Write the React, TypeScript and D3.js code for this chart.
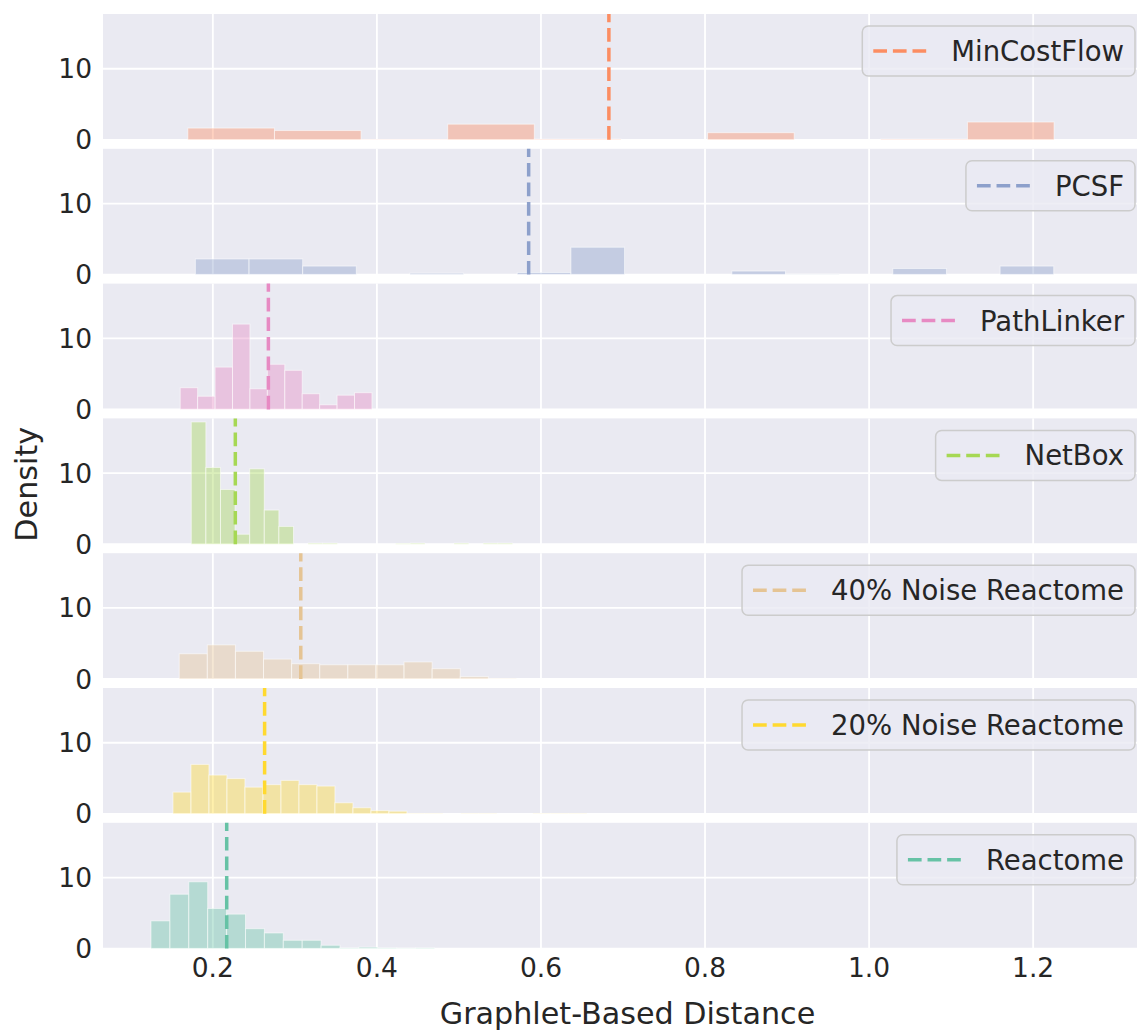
import React from "react";
import * as d3 from "d3";

// ---- data ----
const seriesNames = [
  "MinCostFlow",
  "PCSF",
  "PathLinker",
  "NetBox",
  "40% Noise Reactome",
  "20% Noise Reactome",
  "Reactome",
];
const seriesColors = ["#fc8d62", "#8da0cb", "#e78ac3", "#a6d854", "#e5c494", "#ffd92f", "#66c2a5"];
const binStarts = [0.1695, 0.1787, 0.1602, 0.1737, 0.159, 0.1514, 0.1246];
const binWidths = [0.1056, 0.0654, 0.02125, 0.0178, 0.03426, 0.02194, 0.02304];
const minCostFlowDensity = [1.65, 1.3, 0.05, 2.2, 0.1, 0, 1.0, 0, 0.1, 2.5];
const pcsfDensity = [2.2, 2.2, 1.2, 0, 0.2, 0, 0.3, 3.85, 0, 0, 0.5, 0.05, 0, 0.85, 0, 1.2];
const pathLinkerDensity = [3.05, 1.85, 5.95, 12.0, 2.9, 6.35, 5.5, 2.2, 0.65, 2.0, 2.35];
const netBoxDensity = [17.2, 10.8, 7.7, 1.4, 10.6, 4.8, 2.5, 0, 0.15, 0.15, 0, 0, 0, 0, 0.1, 0.15, 0, 0, 0.15, 0, 0.15, 0.15];
const noise40Density = [3.55, 4.8, 3.9, 2.8, 2.15, 2.0, 2.0, 2.0, 2.4, 1.45, 0.33, 0.06];
const noise20Density = [3.05, 6.95, 5.45, 4.95, 3.75, 4.1, 4.7, 4.1, 3.9, 1.55, 0.85, 0.45, 0.37, 0.05, 0.05, 0, 0.05, 0.05, 0, 0, 0.05, 0.05, 0.05];
const reactomeDensity = [3.9, 7.65, 9.4, 5.65, 4.85, 2.8, 2.2, 1.17, 1.17, 0.47, 0.1, 0.2, 0.1, 0.05, 0.1];
const seriesDensities = [
  minCostFlowDensity,
  pcsfDensity,
  pathLinkerDensity,
  netBoxDensity,
  noise40Density,
  noise20Density,
  reactomeDensity,
];
const seriesMeans = [0.6828, 0.585, 0.2677, 0.2274, 0.3072, 0.2631, 0.2169];
const xTicks = [0.2, 0.4, 0.6, 0.8, 1.0, 1.2];
const yTicks = [0, 10];
const xDomain = [0.0661, 1.34];
const yDomain = [0, 17.7];

const W = 1137;
const H = 1032;
const plotLeft = 103;
const plotRight = 1148;
const panelTop0 = 14;
const panelStep = 134.8;
const panelH = 125.8;
const FONT = "'DejaVu Sans', sans-serif";
const TXT = "#262626";

function measure(text: string, size: number): number {
  if (typeof document === "undefined") return text.length * size * 0.6;
  const c = document.createElement("canvas");
  const ctx = c.getContext("2d");
  if (!ctx) return text.length * size * 0.6;
  ctx.font = `${size}px 'DejaVu Sans'`;
  return ctx.measureText(text).width;
}

export default function App() {
  const x = d3.scaleLinear().domain(xDomain).range([plotLeft, plotRight]);
  const legendFont = 27.5;
  const tickFont = 26.5;
  const labelFont = 30.2;
  const lastBottom = panelTop0 + 6 * panelStep + panelH;

  return (
    <div style={{ position: "absolute", left: 0, top: 0 }}>
      <svg width={W} height={H} viewBox={`0 0 ${W} ${H}`} style={{ display: "block", background: "#fff" }}>
        <defs>
          <clipPath id="plotclip">
            <rect x={plotLeft} y={0} width={plotRight - plotLeft} height={H} />
          </clipPath>
        </defs>
        {seriesNames.map((name, i) => {
          const top = panelTop0 + i * panelStep;
          const y = d3.scaleLinear().domain(yDomain).range([top + panelH, top]);
          const color = seriesColors[i];
          const dens = seriesDensities[i];
          const tw = measure(name, legendFont);
          const boxRight = 1135;
          const boxW = 11 + 55 + 23 + tw + 11;
          const boxLeft = boxRight - boxW;
          const boxTop = top + 12;
          const boxH = 50;
          const cy = boxTop + boxH / 2;
          return (
            <g key={name}>
              <rect x={plotLeft} y={top} width={plotRight - plotLeft} height={panelH} fill="#eaeaf2" />
              <g clipPath="url(#plotclip)">
                {xTicks.map((t) => (
                  <line key={t} x1={x(t)} x2={x(t)} y1={top} y2={top + panelH} stroke="#fff" strokeWidth={1.8} />
                ))}
                {yTicks.map((t) => (
                  <line key={t} x1={plotLeft} x2={plotRight} y1={y(t)} y2={y(t)} stroke="#fff" strokeWidth={1.8} />
                ))}
                {dens.map((d, k) => {
                  if (d <= 0) return null;
                  const x0 = binStarts[i] + k * binWidths[i];
                  const x1 = x0 + binWidths[i];
                  return (
                    <rect
                      key={k}
                      x={x(x0)}
                      y={y(d)}
                      width={x(x1) - x(x0)}
                      height={y(0) - y(d)}
                      fill={color}
                      fillOpacity={0.4}
                      stroke="#ffffff"
                      strokeOpacity={0.55}
                      strokeWidth={1}
                    />
                  );
                })}
                <line
                  x1={x(seriesMeans[i])}
                  x2={x(seriesMeans[i])}
                  y1={top + panelH}
                  y2={top}
                  stroke={color}
                  strokeWidth={3.5}
                  strokeDasharray="13.7 5.9"
                />
              </g>
              {yTicks.map((t) => (
                <text
                  key={t}
                  x={92}
                  y={y(t)}
                  dy="0.36em"
                  textAnchor="end"
                  fontFamily={FONT}
                  fontSize={tickFont}
                  fill={TXT}
                >
                  {t}
                </text>
              ))}
              <rect
                x={boxLeft}
                y={boxTop}
                width={boxW}
                height={boxH}
                rx={6}
                ry={6}
                fill="#eaeaf2"
                fillOpacity={0.8}
                stroke="#cccccc"
                strokeWidth={1.5}
              />
              <line
                x1={boxLeft + 11}
                x2={boxLeft + 66}
                y1={cy}
                y2={cy}
                stroke={color}
                strokeWidth={3.5}
                strokeDasharray="13.7 5.9"
              />
              <text
                x={boxLeft + 89}
                y={cy}
                dy="0.36em"
                fontFamily={FONT}
                fontSize={legendFont}
                fill={TXT}
              >
                {name}
              </text>
            </g>
          );
        })}
        {xTicks.map((t) => (
          <text
            key={t}
            x={x(t)}
            y={977}
            textAnchor="middle"
            fontFamily={FONT}
            fontSize={tickFont}
            fill={TXT}
          >
            {t.toFixed(1)}
          </text>
        ))}
        <text
          x={(plotLeft + plotRight) / 2 + 2}
          y={1024}
          textAnchor="middle"
          fontFamily={FONT}
          fontSize={labelFont}
          fill={TXT}
        >
          Graphlet-Based Distance
        </text>
        <text
          transform={`translate(37, ${(panelTop0 + lastBottom) / 2 + 3}) rotate(-90)`}
          textAnchor="middle"
          fontFamily={FONT}
          fontSize={labelFont}
          fill={TXT}
        >
          Density
        </text>
      </svg>
    </div>
  );
}
